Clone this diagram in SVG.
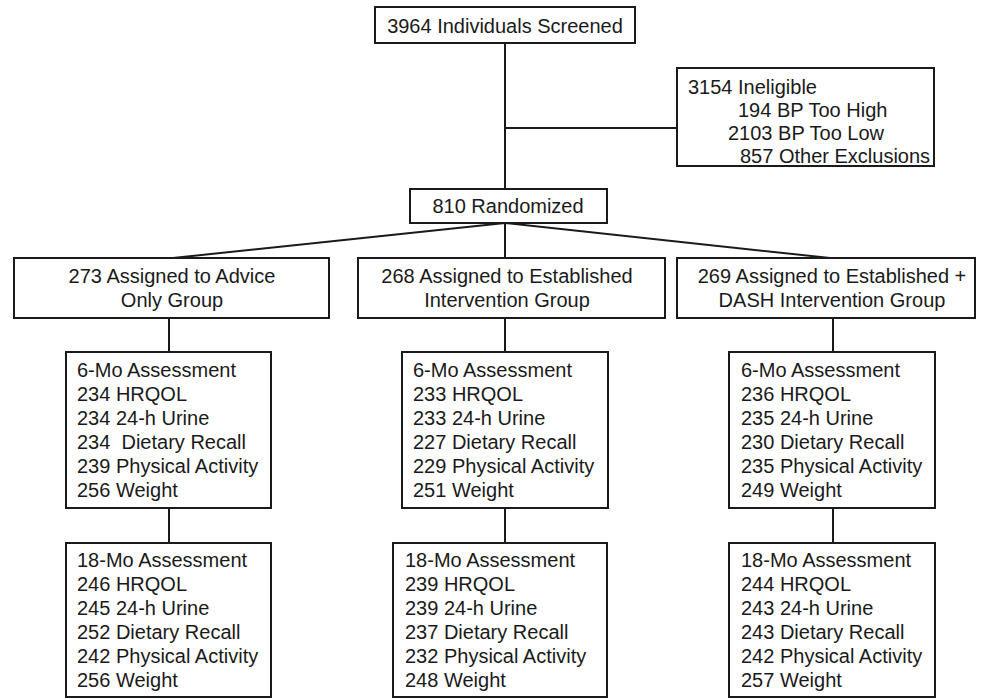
<svg xmlns="http://www.w3.org/2000/svg" width="981" height="698" viewBox="0 0 981 698">
<style>
rect.box{fill:#fff;stroke:#1a1a1a;stroke-width:2}
#connectors line{stroke:#1a1a1a;stroke-width:2}
text{font-family:"Liberation Sans",Arial,sans-serif;font-size:20px;fill:#1a1a1a}
.c{text-anchor:middle}
</style>
<rect width="981" height="698" fill="#fff"/>
<g id="connectors">
<line x1="505" y1="43" x2="505" y2="189"/>
<line x1="505" y1="128" x2="677" y2="128"/>
<line x1="505" y1="223" x2="173" y2="258"/>
<line x1="505" y1="223" x2="505" y2="258"/>
<line x1="505" y1="223" x2="830" y2="258"/>
<line x1="169" y1="318" x2="169" y2="352"/>
<line x1="505" y1="318" x2="505" y2="352"/>
<line x1="833" y1="318" x2="833" y2="352"/>
<line x1="169" y1="508" x2="169" y2="543"/>
<line x1="505" y1="508" x2="505" y2="543"/>
<line x1="833" y1="508" x2="833" y2="543"/>
</g>
<g id="screened">
<rect class="box" x="375" y="7" width="260" height="36"/>
<text class="c" x="505" y="33">3964 Individuals Screened</text>
</g>
<g id="ineligible">
<rect class="box" x="677" y="68" width="257" height="98"/>
<text x="688" y="94">3154 Ineligible</text>
<text x="738" y="117">194 BP Too High</text>
<text x="728" y="140">2103 BP Too Low</text>
<text x="740" y="163">857 Other Exclusions</text>
</g>
<g id="randomized">
<rect class="box" x="410" y="189" width="197" height="34"/>
<text class="c" x="508" y="213">810 Randomized</text>
</g>
<g id="group-advice">
<rect class="box" x="14" y="258" width="315" height="60"/>
<text class="c" x="172" y="283">273 Assigned to Advice</text>
<text class="c" x="172" y="307">Only Group</text>
</g>
<g id="group-established">
<rect class="box" x="358" y="258" width="307" height="60"/>
<text class="c" x="507" y="283">268 Assigned to Established</text>
<text class="c" x="507" y="307">Intervention Group</text>
</g>
<g id="group-dash">
<rect class="box" x="677" y="258" width="298" height="60"/>
<text class="c" x="832" y="283">269 Assigned to Established +</text>
<text class="c" x="832" y="307">DASH Intervention Group</text>
</g>
<g id="advice-6mo">
<rect class="box" x="66" y="352" width="205" height="156"/>
<text x="77" y="377">6-Mo Assessment</text>
<text x="77" y="401">234 HRQOL</text>
<text x="77" y="425">234 24-h Urine</text>
<text x="77" y="449" xml:space="preserve">234  Dietary Recall</text>
<text x="77" y="473">239 Physical Activity</text>
<text x="77" y="497">256 Weight</text>
</g>
<g id="established-6mo">
<rect class="box" x="402" y="352" width="206" height="156"/>
<text x="413" y="377">6-Mo Assessment</text>
<text x="413" y="401">233 HRQOL</text>
<text x="413" y="425">233 24-h Urine</text>
<text x="413" y="449">227 Dietary Recall</text>
<text x="413" y="473">229 Physical Activity</text>
<text x="413" y="497">251 Weight</text>
</g>
<g id="dash-6mo">
<rect class="box" x="729" y="352" width="206" height="156"/>
<text x="741" y="377">6-Mo Assessment</text>
<text x="741" y="401">236 HRQOL</text>
<text x="741" y="425">235 24-h Urine</text>
<text x="741" y="449">230 Dietary Recall</text>
<text x="741" y="473">235 Physical Activity</text>
<text x="741" y="497">249 Weight</text>
</g>
<g id="advice-18mo">
<rect class="box" x="66" y="543" width="205" height="154"/>
<text x="77" y="567">18-Mo Assessment</text>
<text x="77" y="591">246 HRQOL</text>
<text x="77" y="615">245 24-h Urine</text>
<text x="77" y="639">252 Dietary Recall</text>
<text x="77" y="663">242 Physical Activity</text>
<text x="77" y="687">256 Weight</text>
</g>
<g id="established-18mo">
<rect class="box" x="393" y="543" width="214" height="154"/>
<text x="405" y="567">18-Mo Assessment</text>
<text x="405" y="591">239 HRQOL</text>
<text x="405" y="615">239 24-h Urine</text>
<text x="405" y="639">237 Dietary Recall</text>
<text x="405" y="663">232 Physical Activity</text>
<text x="405" y="687">248 Weight</text>
</g>
<g id="dash-18mo">
<rect class="box" x="729" y="543" width="206" height="154"/>
<text x="741" y="567">18-Mo Assessment</text>
<text x="741" y="591">244 HRQOL</text>
<text x="741" y="615">243 24-h Urine</text>
<text x="741" y="639">243 Dietary Recall</text>
<text x="741" y="663">242 Physical Activity</text>
<text x="741" y="687">257 Weight</text>
</g>
</svg>
